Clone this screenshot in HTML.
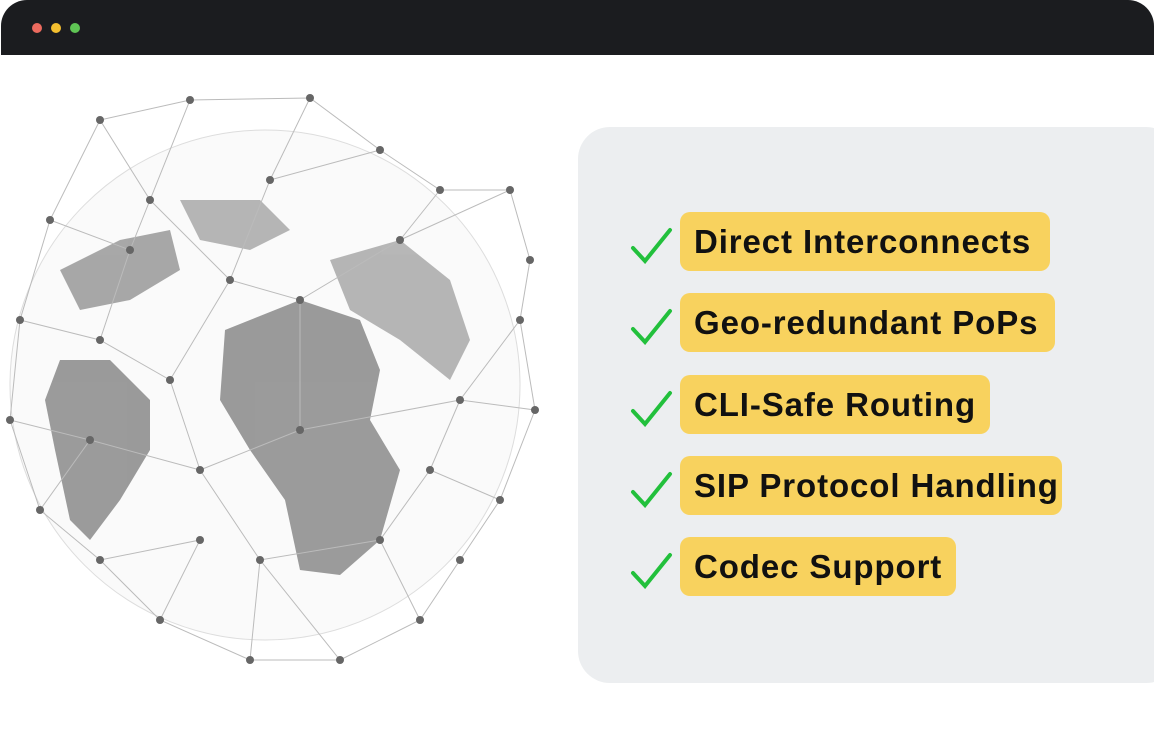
<!DOCTYPE html>
<html><head><style>
body{margin:0;width:1154px;height:756px;background:#fff;position:relative;overflow:hidden;font-family:"Liberation Sans",sans-serif}
.bar{position:absolute;left:1px;top:0;width:1153px;height:55px;background:#1b1c1f;border-radius:26px 26px 0 0}
.d{position:absolute;top:23px;width:10px;height:10px;border-radius:50%}
.panel{position:absolute;left:578px;top:127px;width:600px;height:556px;background:#eceef0;border-radius:32px}
.pill{position:absolute;left:680px;height:59px;background:#f8d25e;border-radius:10px;font-weight:bold;font-size:33px;color:#111;line-height:59px;padding-left:14px;box-sizing:border-box;letter-spacing:0.9px;white-space:nowrap}
.ck{position:absolute;left:630px}
</style></head><body>
<div class="bar"><div class="d" style="left:31px;background:#ec6a5e"></div><div class="d" style="left:50px;background:#f4bf2f"></div><div class="d" style="left:69px;background:#5fc454"></div></div>
<svg style="position:absolute;left:0;top:60px" width="570" height="640" viewBox="0 60 570 640">
<circle cx="265" cy="385" r="255" fill="#fafafa" stroke="#ddd" stroke-width="1"/>
<g fill="#8a8a8a" opacity="0.85">
<path d="M225 330 L300 300 L360 320 L380 370 L370 420 L400 470 L380 540 L340 575 L300 570 L285 500 L250 450 L220 400 Z"/>
<path d="M60 360 L110 360 L150 400 L150 450 L120 500 L90 540 L70 520 L55 450 L45 400 Z"/>
<path d="M330 260 L400 240 L450 280 L470 340 L450 380 L400 340 L350 310 Z" fill="#aaa"/>
<path d="M60 270 L120 240 L170 230 L180 270 L130 300 L80 310 Z" fill="#999"/>
<path d="M180 200 L260 200 L290 230 L250 250 L200 240 Z" fill="#aaa"/>
</g>
<g stroke="#bbb" stroke-width="1" fill="none">
<path d="M100 120 L190 100 L310 98 L380 150 L440 190 L510 190 L530 260 L520 320 L535 410 L500 500 L460 560 L420 620 L340 660 L250 660 L160 620 L100 560 L40 510 L10 420 L20 320 L50 220 Z"/>
<path d="M100 120 L150 200 L190 100 M310 98 L270 180 L380 150 M440 190 L400 240 L510 190 M50 220 L130 250 L150 200 M20 320 L100 340 L130 250 M535 410 L460 400 L520 320 M500 500 L430 470 L460 400 M420 620 L380 540 L430 470 M250 660 L260 560 L340 660 M160 620 L200 540 L100 560 M10 420 L90 440 L40 510 M270 180 L230 280 L150 200 M230 280 L300 300 L400 240 M100 340 L170 380 L230 280 M170 380 L200 470 L90 440 M200 470 L260 560 L380 540 M200 470 L300 430 L460 400 M300 300 L300 430"/>
</g>
<g fill="#666">
<circle cx="100" cy="120" r="4"/><circle cx="190" cy="100" r="4"/><circle cx="310" cy="98" r="4"/><circle cx="380" cy="150" r="4"/><circle cx="440" cy="190" r="4"/><circle cx="510" cy="190" r="4"/><circle cx="530" cy="260" r="4"/><circle cx="520" cy="320" r="4"/><circle cx="535" cy="410" r="4"/><circle cx="500" cy="500" r="4"/><circle cx="460" cy="560" r="4"/><circle cx="420" cy="620" r="4"/><circle cx="340" cy="660" r="4"/><circle cx="250" cy="660" r="4"/><circle cx="160" cy="620" r="4"/><circle cx="100" cy="560" r="4"/><circle cx="40" cy="510" r="4"/><circle cx="10" cy="420" r="4"/><circle cx="20" cy="320" r="4"/><circle cx="50" cy="220" r="4"/><circle cx="150" cy="200" r="4"/><circle cx="270" cy="180" r="4"/><circle cx="400" cy="240" r="4"/><circle cx="130" cy="250" r="4"/><circle cx="100" cy="340" r="4"/><circle cx="460" cy="400" r="4"/><circle cx="430" cy="470" r="4"/><circle cx="380" cy="540" r="4"/><circle cx="260" cy="560" r="4"/><circle cx="200" cy="540" r="4"/><circle cx="90" cy="440" r="4"/><circle cx="230" cy="280" r="4"/><circle cx="300" cy="300" r="4"/><circle cx="170" cy="380" r="4"/><circle cx="200" cy="470" r="4"/><circle cx="300" cy="430" r="4"/>
</g>
</svg>
<div class="panel"></div>
<svg class="ck" style="top:226px" width="44" height="38"><path d="M3 22 L15 35 L40 4" stroke="#22c03c" stroke-width="4" fill="none" stroke-linecap="round"/></svg>
<div class="pill" style="top:212px;width:370px">Direct Interconnects</div>
<svg class="ck" style="top:307px" width="44" height="38"><path d="M3 22 L15 35 L40 4" stroke="#22c03c" stroke-width="4" fill="none" stroke-linecap="round"/></svg>
<div class="pill" style="top:293px;width:375px">Geo-redundant PoPs</div>
<svg class="ck" style="top:389px" width="44" height="38"><path d="M3 22 L15 35 L40 4" stroke="#22c03c" stroke-width="4" fill="none" stroke-linecap="round"/></svg>
<div class="pill" style="top:375px;width:310px">CLI-Safe Routing</div>
<svg class="ck" style="top:470px" width="44" height="38"><path d="M3 22 L15 35 L40 4" stroke="#22c03c" stroke-width="4" fill="none" stroke-linecap="round"/></svg>
<div class="pill" style="top:456px;width:382px">SIP Protocol Handling</div>
<svg class="ck" style="top:551px" width="44" height="38"><path d="M3 22 L15 35 L40 4" stroke="#22c03c" stroke-width="4" fill="none" stroke-linecap="round"/></svg>
<div class="pill" style="top:537px;width:276px">Codec Support</div>
</body></html>
